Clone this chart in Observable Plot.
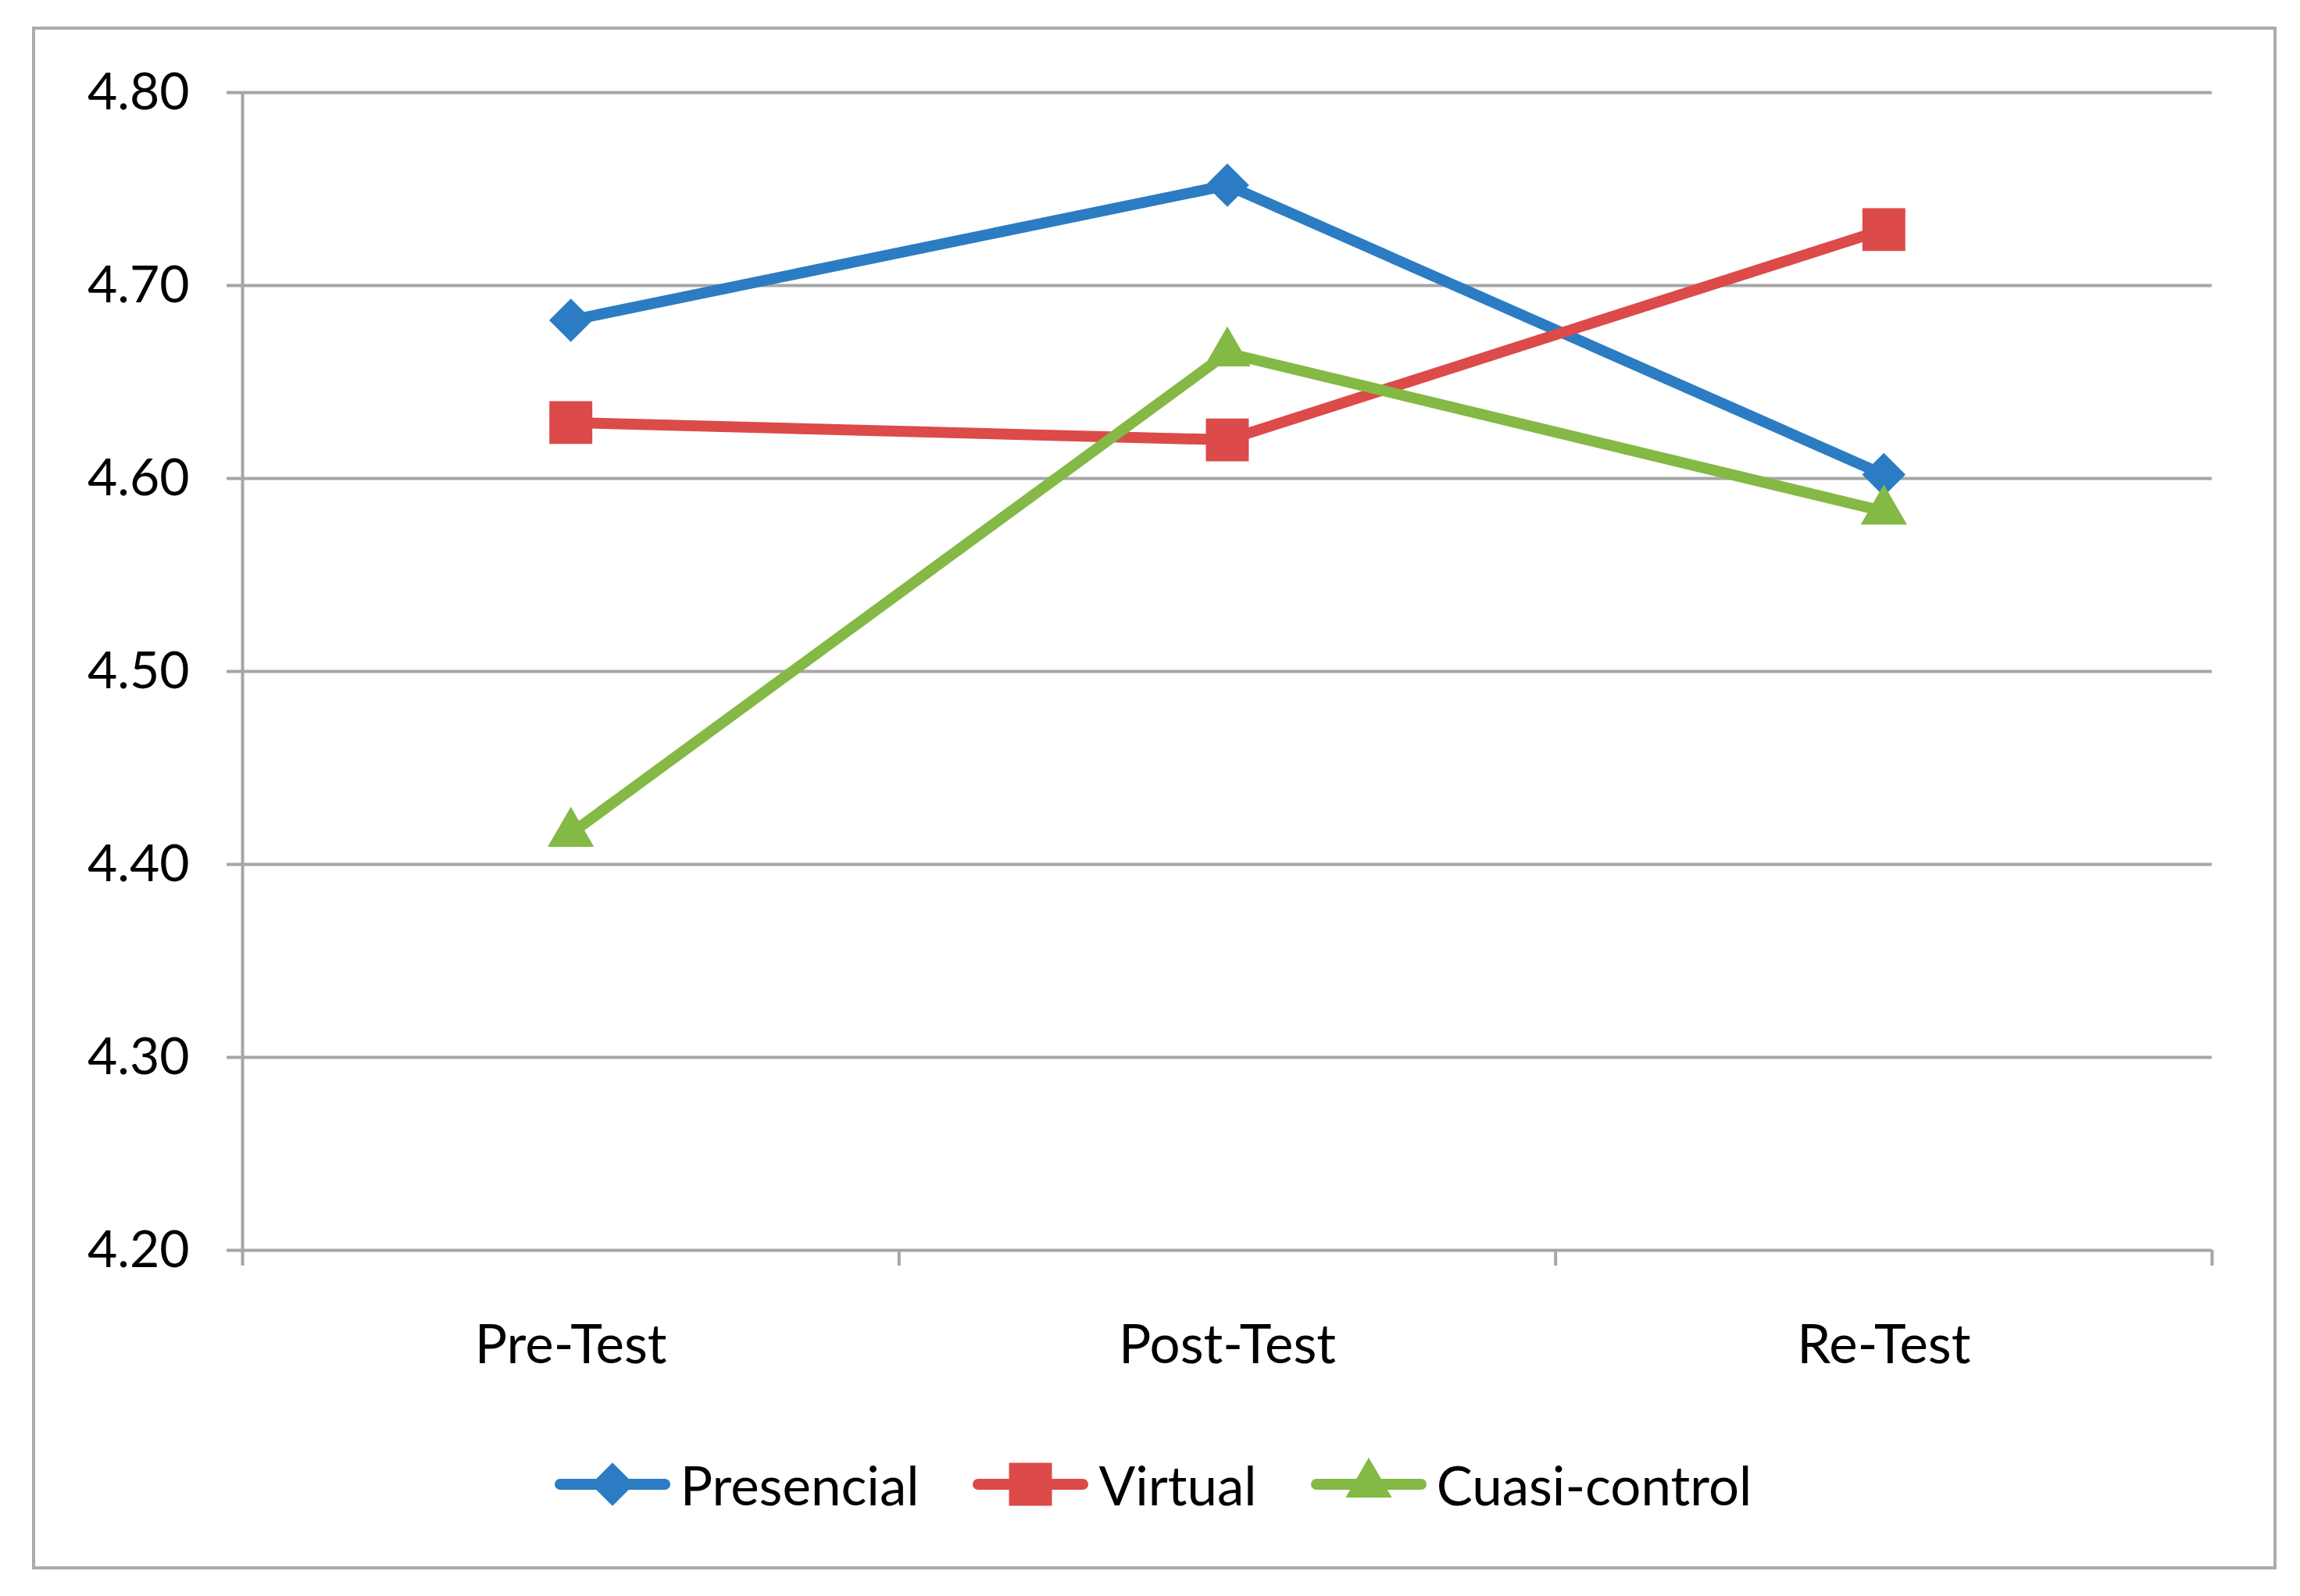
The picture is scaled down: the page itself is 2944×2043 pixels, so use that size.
<!DOCTYPE html>
<html>
<head>
<meta charset="utf-8">
<script src="https://cdn.jsdelivr.net/npm/d3@7"></script>
<script src="https://cdn.jsdelivr.net/npm/@observablehq/plot@0.6"></script>
<style>
  html, body { margin: 0; padding: 0; background: #fff; }
  body { width: 2944px; height: 2043px; position: relative; overflow: hidden; font-family: Lato, "Open Sans", sans-serif; }
  #box { position: absolute; left: 41px; top: 34px; width: 2873px; height: 1975px; box-sizing: border-box; border: 4px solid #acacac; }
  #legend { display: flex; justify-content: center; align-items: center; height: 244px; font-size: 69px; color: #000; }
  .item { display: flex; align-items: center; margin: 0 36px; }
  .item svg { margin-right: 16px; overflow: visible; }
</style>
</head>
<body>
<div id="box">
  <div id="chart"></div>
  <div id="legend"></div>
</div>
<script>
const categories = ["Pre-Test", "Post-Test", "Re-Test"];
const seriesNames = ["Presencial", "Virtual", "Cuasi-control"];
const presencial = [4.682, 4.752, 4.602];
const virtual = [4.629, 4.620, 4.729];
const cuasiControl = [4.416, 4.665, 4.583];
const yTicks = [4.20, 4.30, 4.40, 4.50, 4.60, 4.70, 4.80];

const colors = ["#2b7cc3", "#dc4a4a", "#83b944"];
const symbols = ["diamond2", "square", "triangle"];
const radii = [25, 31, 22];

const values = [presencial, virtual, cuasiControl];
const data = seriesNames.flatMap((s, si) =>
  values[si].map((v, i) => ({series: s, pos: i + 0.5, cat: categories[i], value: v}))
);

const grid = "#a6a6a6";
const chart = Plot.plot({
  width: 2865,
  height: 1740,
  marginLeft: 265,
  marginRight: 79,
  marginTop: 80,
  marginBottom: 178,
  style: {fontFamily: "Lato, 'Open Sans', sans-serif", fontSize: "64px", background: "#fff", color: "#000", overflow: "visible"},
  x: {domain: [0, categories.length], label: null},
  y: {domain: [yTicks[0], yTicks[yTicks.length - 1]], label: null},
  color: {domain: seriesNames, range: colors},
  marks: [
    Plot.gridY(yTicks, {stroke: grid, strokeOpacity: 1, strokeWidth: 4}),
    Plot.ruleX([0], {stroke: grid, strokeWidth: 4}),
    Plot.axisY({ticks: yTicks, label: null, tickSize: 20, tickPadding: 48, tickFormat: d3.format(".2f"), stroke: grid, strokeWidth: 4, fill: "#000", fontSize: 66}),
    Plot.axisX({ticks: d3.range(categories.length + 1), label: null, tickSize: 20, tickFormat: () => "", stroke: grid, strokeWidth: 4}),
    Plot.axisX({ticks: categories.map((c, i) => i + 0.5), label: null, tickSize: 0, tickPadding: 95, tickFormat: v => categories[Math.floor(v)], fill: "#000", fontSize: 69}),
    Plot.line(data, {x: "pos", y: "value", z: "series", stroke: "series", strokeWidth: 14, strokeLinejoin: "round"}),
    ...seriesNames.map((s, si) =>
      Plot.dot(data, {filter: d => d.series === s, x: "pos", y: "value", fill: colors[si], symbol: symbols[si], r: radii[si]})
    )
  ]
});
document.getElementById("chart").appendChild(chart);

// Legend
const d3Symbols = {diamond2: d3.symbolDiamond2, square: d3.symbolSquare, triangle: d3.symbolTriangle};
const legend = d3.select("#legend");
seriesNames.forEach((s, si) => {
  const item = legend.append("div").attr("class", "item");
  const sw = item.append("svg").attr("width", 142).attr("height", 64);
  sw.append("line").attr("x1", 4).attr("x2", 138).attr("y1", 32).attr("y2", 32)
    .attr("stroke", colors[si]).attr("stroke-width", 14).attr("stroke-linecap", "round");
  sw.append("path").attr("transform", "translate(71,32)")
    .attr("d", d3.symbol(d3Symbols[symbols[si]], Math.PI * radii[si] * radii[si])())
    .attr("fill", colors[si]);
  item.append("span").text(s);
});
</script>
</body>
</html>
